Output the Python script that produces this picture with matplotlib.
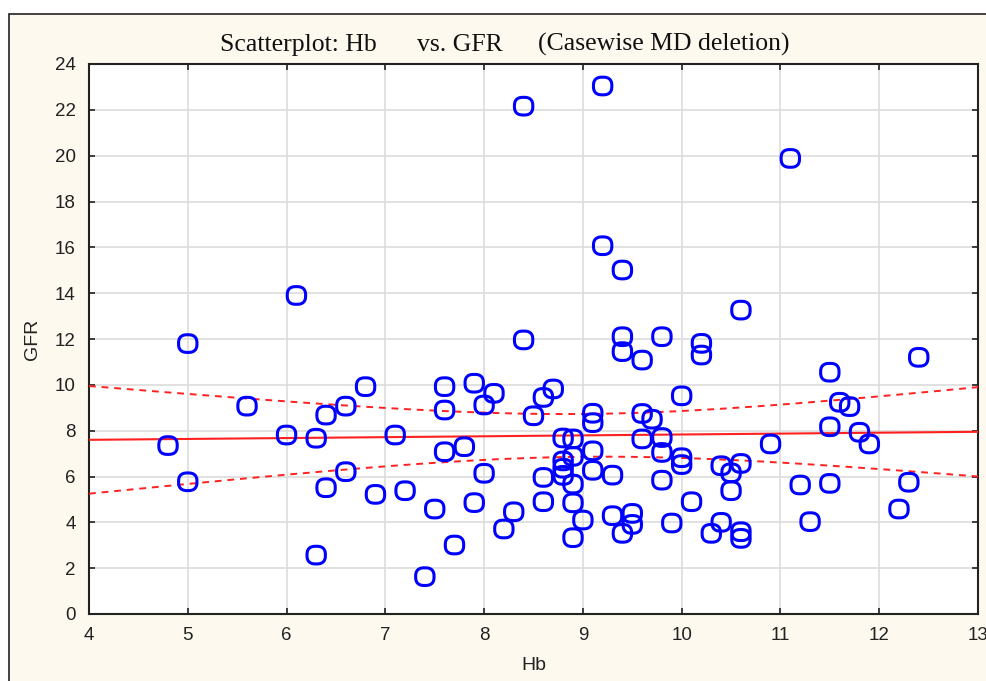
import numpy as np
import matplotlib
matplotlib.use("Agg")
import matplotlib.pyplot as plt
from matplotlib.patches import Rectangle
from matplotlib.path import Path

# Data
hb = [4.8, 5.0, 5.0, 5.6, 6.0, 6.1, 6.3, 6.3, 6.4, 6.4, 6.6, 6.6, 6.8, 6.9, 7.1, 7.2,
      7.4, 7.5, 7.6, 7.6, 7.6, 7.7, 7.8, 7.9, 7.9, 8.0, 8.0, 8.1, 8.2, 8.3, 8.4, 8.4,
      8.5, 8.6, 8.6, 8.6, 8.7, 8.8, 8.8, 8.8, 8.8, 8.9, 8.9, 8.9, 8.9, 8.9, 9.0, 9.1,
      9.1, 9.1, 9.1, 9.2, 9.2, 9.3, 9.3, 9.4, 9.4, 9.4, 9.4, 9.5, 9.5, 9.6, 9.6, 9.6,
      9.7, 9.8, 9.8, 9.8, 9.8, 9.9, 10.0, 10.0, 10.0, 10.1, 10.2, 10.2, 10.3, 10.4, 10.4,
      10.5, 10.5, 10.6, 10.6, 10.6, 10.6, 10.9, 11.1, 11.2, 11.3, 11.5, 11.5, 11.5, 11.6,
      11.7, 11.8, 11.9, 12.2, 12.3, 12.4]
gfr = [7.35, 11.8, 5.77, 9.07, 7.81, 13.9, 7.67, 2.57, 8.68, 5.51, 9.07, 6.21, 9.92, 5.22, 7.81, 5.38,
       1.63, 4.58, 9.92, 8.9, 7.08, 3.01, 7.30, 10.07, 4.86, 9.12, 6.14, 9.63, 3.71, 4.46, 22.16, 11.96,
       8.65, 9.45, 5.96, 4.90, 9.82, 7.68, 6.68, 6.36, 6.05, 7.64, 6.88, 5.67, 4.85, 3.33, 4.10, 8.76,
       8.35, 7.12, 6.27, 23.04, 16.07, 6.06, 4.29, 15.01, 12.1, 11.45, 3.52, 4.39, 3.91, 11.08, 8.75, 7.64,
       8.5, 12.1, 7.7, 7.05, 5.84, 3.97, 9.52, 6.82, 6.52, 4.90, 11.81, 11.30, 3.52, 6.47, 4.0,
       6.16, 5.38, 13.26, 6.57, 3.59, 3.30, 7.42, 19.88, 5.63, 4.03, 10.55, 8.17, 5.70, 9.24,
       9.05, 7.93, 7.42, 4.58, 5.75, 11.2]

# Fitted line and 95% band as read at the axis ends (x = 4 and x = 13)
line_x = [4, 13]
fit_y = [7.6, 7.95]
upper_y_ends = [9.9, 9.85]
lower_y_ends = [5.2, 5.95]

x_ticks = [4, 5, 6, 7, 8, 9, 10, 11, 12, 13]
y_ticks = [0, 2, 4, 6, 8, 10, 12, 14, 16, 18, 20, 22, 24]

title_parts = ["Scatterplot: Hb", "vs. GFR", "(Casewise MD deletion)"]

x = np.array(hb)
y = np.array(gfr)

SANS = ["Liberation Sans", "DejaVu Sans"]
SERIF = ["Liberation Serif", "DejaVu Serif"]

# slightly squared circle marker like the Statistica symbol
t = np.linspace(0, 2 * np.pi, 81)
ex = 2 / 2.6
mx_ = np.sign(np.cos(t)) * np.abs(np.cos(t)) ** ex * 1.04
my_ = np.sign(np.sin(t)) * np.abs(np.sin(t)) ** ex
marker = Path(np.column_stack([mx_, my_]), closed=True)

fig = plt.figure(figsize=(9.86, 6.81), dpi=100)
fig.patch.set_facecolor("white")
frame = Rectangle((9/986, -0.05), 1.2, 1 - 14/681 + 0.05,
                  transform=fig.transFigure, facecolor="#FDF9EE",
                  edgecolor="#222222", linewidth=1.2, zorder=-10)
fig.patches.append(frame)

ax = fig.add_axes([89/986, 67/681, 889/986, 550/681])
ax.set_zorder(1)
ax.set_facecolor("white")

# Regression line and confidence band (hyperbolic band through the read ends)
xs = np.linspace(4, 13, 200)
slope = (fit_y[1] - fit_y[0]) / (line_x[1] - line_x[0])
fit = fit_y[0] + slope * (xs - line_x[0])
mxd = np.mean(x)
ha = ((upper_y_ends[0] - fit_y[0]) + (fit_y[0] - lower_y_ends[0])) / 2
hb_ = ((upper_y_ends[1] - fit_y[1]) + (fit_y[1] - lower_y_ends[1])) / 2
d_a = (line_x[0] - mxd) ** 2
d_b = (line_x[1] - mxd) ** 2
c1 = (ha ** 2 - hb_ ** 2) / (d_a - d_b)
c0 = ha ** 2 - c1 * d_a
hw = np.sqrt(np.maximum(c0 + c1 * (xs - mxd) ** 2, 0))

ax.plot(xs, fit, color="#FF2020", lw=1.5, zorder=3)
ax.plot(xs, fit + hw, color="#FF2020", lw=1.4, ls=(0, (3.5, 3)), zorder=3)
ax.plot(xs, fit - hw, color="#FF2020", lw=1.4, ls=(0, (3.5, 3)), zorder=3)

ax.scatter(x, y, s=175, marker=marker, facecolors="none", edgecolors="#0000FF",
           linewidths=2.2, zorder=4, clip_on=False)

ax.set_xlim(4, 13)
ax.set_ylim(0, 24)
ax.set_xticks(x_ticks)
ax.set_yticks(y_ticks)
ax.grid(True, color="#DCDCDC", lw=1.2, zorder=0)
ax.set_axisbelow(True)
ax.tick_params(direction="in", length=4, width=1.2, top=True, right=True,
               labelsize=13.5, colors="#222222", pad=9.5)
for lab in ax.get_xticklabels() + ax.get_yticklabels():
    lab.set_fontfamily(SANS)
for sp in ax.spines.values():
    sp.set_linewidth(1.5)
    sp.set_color("#222222")

ax.set_xlabel("Hb", fontsize=14, family=SANS, labelpad=9, color="#222222")
ax.set_ylabel("GFR", fontsize=14, family=SANS, labelpad=10, color="#222222")

for txt, px in zip(title_parts, [220, 417, 538]):
    fig.text(px/986, 1 - 51/681, txt, ha="left", va="baseline", fontsize=18.5,
             family=SERIF, color="#111111")

fig.savefig("out.png", dpi=100, facecolor=fig.get_facecolor())
